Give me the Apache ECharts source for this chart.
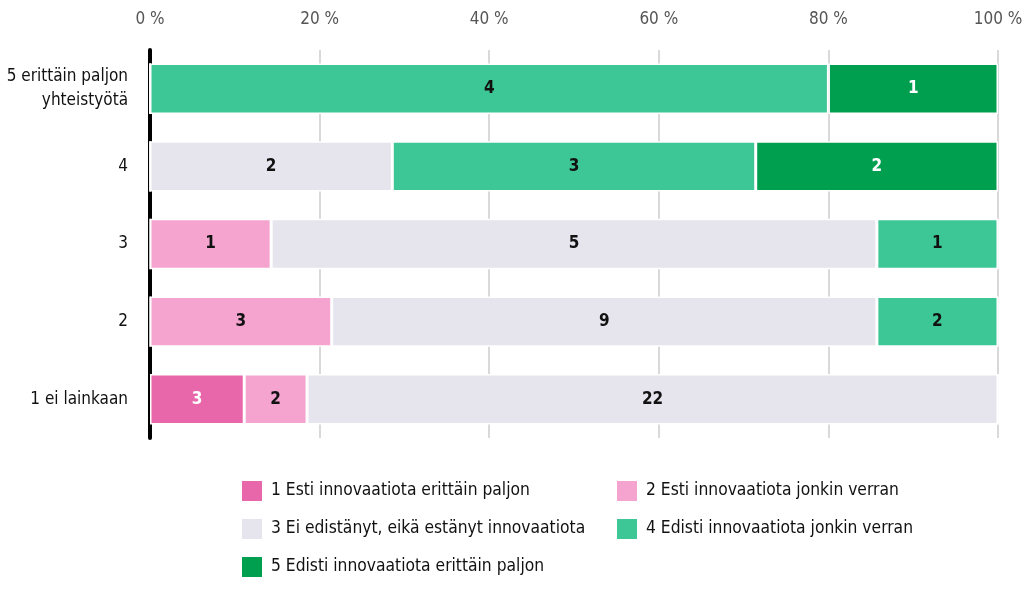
<!DOCTYPE html>
<html>
<head>
<meta charset="utf-8">
<script src="https://cdn.jsdelivr.net/npm/echarts@6/dist/echarts.min.js"></script>
<style>
html,body{margin:0;padding:0;background:#fff;}
#chart{width:1027px;height:589px;}
</style>
</head>
<body>
<div id="chart"></div>
<script>
// categories bottom -> top
var categories = ['1 ei lainkaan', '2', '3', '4', '5 erittäin paljon\nyhteistyötä'];
var seriesNames = [
	'1 Esti innovaatiota erittäin paljon',
	'2 Esti innovaatiota jonkin verran',
	'3 Ei edistänyt, eikä estänyt innovaatiota',
	'4 Edisti innovaatiota jonkin verran',
	'5 Edisti innovaatiota erittäin paljon'
];
// counts per category (same order as categories)
var s1 = [3, 0, 0, 0, 0];
var s2 = [2, 3, 1, 0, 0];
var s3 = [22, 9, 5, 2, 0];
var s4 = [0, 2, 1, 3, 4];
var s5 = [0, 0, 0, 2, 1];
var colors = ['#e866aa', '#f4a4cf', '#e6e4ec', '#3ec796', '#009f4f'];
var labelColors = ['#ffffff', '#111111', '#111111', '#111111', '#ffffff'];
var tickValues = [0, 20, 40, 60, 80, 100];

var FONT = '"Liberation Sans Narrow", "DejaVu Sans Condensed", sans-serif';

var chart = echarts.init(document.getElementById('chart'));

var counts = [s1, s2, s3, s4, s5];
var totals = categories.map(function(c, i){
	var t = 0;
	counts.forEach(function(arr){ t += arr[i]; });
	return t;
});

var series = counts.map(function(arr, k){
	return {
		name: seriesNames[k],
		type: 'bar',
		stack: 'all',
		barWidth: '65%',
		itemStyle: { color: colors[k], borderColor: '#fff', borderWidth: 1.5 },
		label: {
			show: true,
			position: 'inside',
			color: labelColors[k],
			fontFamily: FONT,
			fontWeight: 'bold',
			fontSize: 17,
			formatter: function(p){ return counts[k][p.dataIndex] ? counts[k][p.dataIndex] : ''; }
		},
		data: arr.map(function(v, i){ return v / totals[i] * 100; })
	};
});

var legendText = { fontFamily: FONT, fontSize: 17.3, color: '#111', lineHeight: 22, padding: [0, 0, 0, 3] };

var option = {
	animation: false,
	color: colors,
	grid: { left: 150, right: 29, top: 50, height: 388 },
	xAxis: {
		type: 'value',
		position: 'top',
		min: 0,
		max: 100,
		interval: 20,
		axisLine: { show: false },
		axisTick: { show: false },
		axisLabel: {
			color: '#555',
			fontFamily: FONT,
			fontSize: 17,
			margin: 22,
			formatter: function(v){ return tickValues.indexOf(v) >= 0 ? v + ' %' : ''; }
		},
		splitLine: { show: true, lineStyle: { color: '#d9d9d9', width: 2 } }
	},
	yAxis: {
		type: 'category',
		data: categories,
		axisLine: { show: true, lineStyle: { color: '#000', width: 4 } },
		axisTick: { show: false },
		axisLabel: {
			color: '#111',
			fontFamily: FONT,
			fontSize: 17,
			lineHeight: 24,
			margin: 22,
			align: 'right'
		}
	},
	legend: [
		{
			orient: 'vertical',
			left: 235,
			top: 474,
			height: 130,
			itemWidth: 22,
			itemHeight: 22,
			itemGap: 14,
			icon: 'rect',
			textStyle: legendText,
			data: [seriesNames[0], seriesNames[2], seriesNames[4]],
			selectedMode: false
		},
		{
			orient: 'vertical',
			left: 610,
			top: 474,
			height: 130,
			itemWidth: 22,
			itemHeight: 22,
			itemGap: 14,
			icon: 'rect',
			textStyle: legendText,
			data: [seriesNames[1], seriesNames[3]],
			selectedMode: false
		}
	],
	series: series
};

chart.setOption(option);
</script>
</body>
</html>
